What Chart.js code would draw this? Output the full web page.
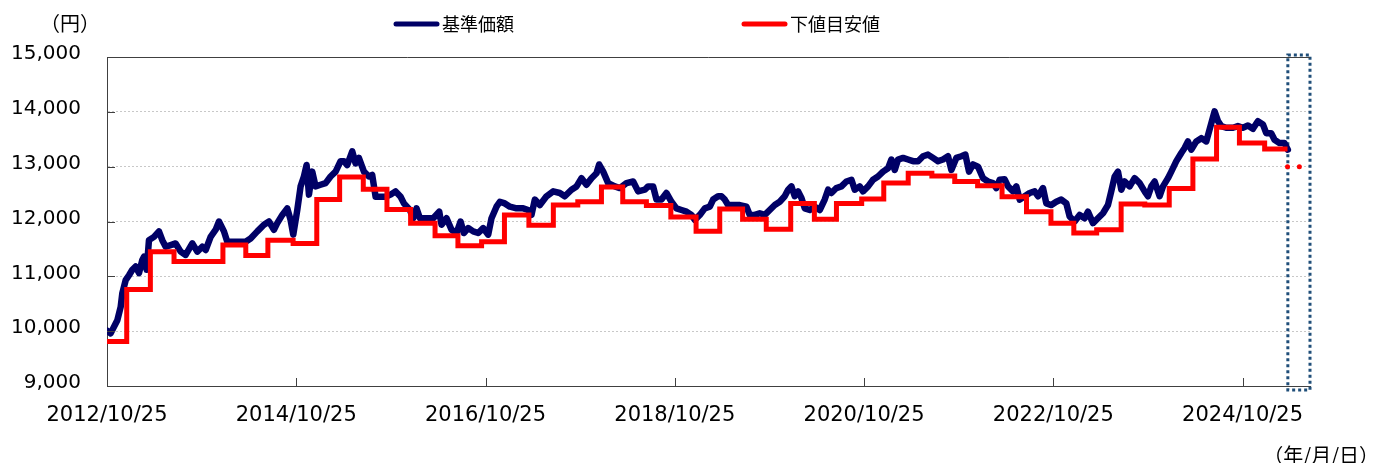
<!DOCTYPE html>
<html lang="ja">
<head>
<meta charset="utf-8">
<title>基準価額と下値目安値の推移</title>
<script src="https://cdn.jsdelivr.net/npm/chart.js@4.4.1/dist/chart.umd.min.js"></script>
<style>
  html, body { margin: 0; padding: 0; background: #fff; }
</style>
</head>
<body>
<canvas id="chart" width="1379" height="463"></canvas>
<script>
// 横軸は 2012/10/25 からの経過月数
const tickMonths = [0, 24, 48, 72, 96, 120, 144];
const tickLabels = ["2012/10/25", "2014/10/25", "2016/10/25", "2018/10/25", "2020/10/25", "2022/10/25", "2024/10/25"];
const axisEndMonth = 152.55;

const yMin = 9000;
const yMax = 15000;
const yStep = 1000;

// 基準価額
const navMonths = [
  0, 0.46, 1.31, 1.73, 1.94, 2.37, 2.79, 3.21, 3.63, 4.06, 4.48, 4.69, 5.03, 5.32, 5.96, 6.59,
  7.01, 7.44, 8.07, 8.70, 9.34, 9.97, 10.82, 11.45, 12.08, 12.51, 13.14, 13.78, 14.20, 14.83, 15.25,
  16.52, 17.58, 18.21, 19.06, 19.90, 20.54, 21.17, 21.59, 22.23, 22.86, 23.28, 23.62, 24.13, 24.55,
  24.97, 25.31, 25.61, 26.03, 26.45, 27.08, 27.72, 28.35, 28.99, 29.62, 30.04, 30.46, 31.10, 31.52,
  31.94, 32.58, 33.21, 33.63, 34.06, 34.69, 35.32, 35.96, 36.59, 37.23, 37.65,
  38.41, 38.83, 39.25, 39.68, 40.52, 41.37, 42.13, 42.42, 43.06, 43.69, 44.32, 44.83, 45.25, 45.80,
  46.44, 47.07, 47.70, 48.34, 48.76, 49.39, 49.82, 50.45, 51.09, 51.93, 52.78, 53.41, 53.83, 54.25,
  54.89, 55.73, 56.58, 57.42, 58.05, 58.90, 59.54, 60.17, 60.80, 61.44, 62.07, 62.41, 62.92, 63.55,
  64.40, 65.03, 65.87, 66.72, 67.35, 68.20, 68.62, 69.25, 69.68, 70.31, 70.94, 71.58, 72.21, 72.85,
  73.48, 74.11, 74.54,
  75.17, 75.80, 76.44, 76.86, 77.49, 77.92, 78.34, 78.76, 79.40, 80.24, 81.09, 81.51, 82.14, 82.77,
  83.41, 84.04, 84.68, 85.31, 85.94, 86.37, 86.79, 87.21, 87.64, 88.06, 88.48, 89.11, 89.75, 90.38,
  91.01, 91.44, 91.86, 92.49, 93.13, 93.76, 94.40, 94.82, 95.45, 95.87, 96.51, 97.14, 97.77, 98.41,
  99.04, 99.47, 99.89, 100.31, 100.95, 101.58, 102.21, 102.85, 103.48, 104.11, 104.75, 105.38,
  106.01, 106.65, 107.07, 107.70, 108.34, 108.85, 109.31, 109.82, 110.45, 111.09, 111.72, 112.35, 112.78,
  113.20, 113.83, 114.26, 114.89, 115.31, 115.74, 116.37, 117.00, 117.63, 118.06, 118.69, 119.11,
  119.75, 120.38, 121.01, 121.65, 122.07, 122.70, 123.34, 123.97, 124.39, 125.03, 125.66, 126.30,
  126.93, 127.35, 127.78, 128.20, 128.62, 129.05, 129.68, 130.31, 130.95, 131.58, 132.00, 132.43,
  132.85, 133.48, 133.91, 134.54, 134.96, 135.60, 136.23, 136.65, 137.07, 137.50, 138.13, 138.77,
  139.40, 139.82, 140.45, 140.88, 141.30, 141.93, 142.78, 143.41, 144.04, 144.68, 145.31, 145.94,
  146.58, 147.00, 147.63, 148.05, 148.68, 149.32, 149.74
];
const navValues = [
  10010, 9960, 10200, 10440, 10690, 10930, 11020, 11120, 11180, 11060, 11300, 11360, 11120, 11660, 11720, 11820,
  11660, 11540, 11570, 11600, 11450, 11390, 11600, 11450, 11540, 11480, 11720, 11850, 12000, 11820, 11630,
  11630, 11630, 11690, 11820, 11940, 12000, 11850, 11970, 12120, 12240, 12030, 11760, 12210, 12640,
  12820, 13030, 12490, 12910, 12640, 12670, 12700, 12820, 12910, 13100, 13100, 13030, 13280, 13060,
  13160, 12910, 12820, 12850, 12450, 12450, 12450, 12490, 12550, 12450, 12330,
  12210, 12060, 12240, 12060, 12060, 12060, 12180, 11940, 12060, 11850, 11790, 12000, 11790, 11880,
  11820, 11790, 11880, 11760, 12060, 12270, 12360, 12330, 12270, 12240, 12240, 12210, 12120, 12400,
  12300, 12460, 12550, 12520, 12460, 12580, 12640, 12790, 12670, 12790, 12880, 13040, 12910, 12700,
  12640, 12610, 12700, 12730, 12550, 12580, 12640, 12640, 12400, 12400, 12520, 12360, 12240, 12210,
  12180, 12120, 12030,
  12120, 12240, 12270, 12400, 12460, 12460, 12400, 12300, 12300, 12300, 12270, 12120, 12120, 12150,
  12120, 12210, 12300, 12360, 12460, 12580, 12640, 12460, 12550, 12430, 12240, 12210, 12270, 12210,
  12400, 12580, 12520, 12610, 12640, 12730, 12760, 12580, 12640, 12550, 12640, 12760, 12820, 12910,
  12970, 13130, 12940, 13130, 13160, 13130, 13100, 13100, 13190, 13220, 13160, 13100,
  13130, 13190, 12940, 13160, 13190, 13220, 12910, 13040, 13000, 12790, 12730, 12700, 12610,
  12760, 12770, 12640, 12550, 12640, 12400, 12460, 12520, 12550, 12460, 12610, 12330,
  12300, 12360, 12400, 12330, 12090, 12000, 12120, 12060, 12180, 11970, 12060, 12150,
  12300, 12550, 12820, 12910, 12580, 12730, 12640, 12790, 12700, 12550, 12460, 12640,
  12730, 12460, 12640, 12790, 12910, 13100, 13250, 13340, 13460, 13310, 13460, 13520,
  13460, 13680, 14010, 13830, 13740, 13710, 13710, 13740, 13710, 13750, 13690, 13830,
  13770, 13610, 13610, 13490, 13430, 13430, 13310
];

// 下値目安値（四半期ごとの階段）
const floorMonths = [
  0, 2.5, 5.5, 8.5, 14.7, 17.6, 20.4, 23.6, 26.6, 29.5, 32.5, 35.5, 38.5, 41.6, 44.5, 47.5,
  50.4, 53.5, 56.6, 59.7, 62.7, 65.4, 68.4, 71.5, 74.7, 77.7, 80.6, 83.6, 86.7, 89.7, 92.5,
  95.7, 98.5, 101.6, 104.6, 107.5, 110.4, 113.5, 116.6, 119.7, 122.6, 125.5, 128.6, 131.6,
  134.7, 137.7, 140.7, 143.6, 146.8, 149.7
];
const floorValues = [
  9810, 10760, 11450, 11270, 11570, 11380, 11660, 11600, 12400, 12810, 12590, 12220, 11970, 11740, 11560, 11630,
  12120, 11930, 12300, 12360, 12630, 12360, 12290, 12080, 11820, 12230, 12040, 11860, 12330, 12040, 12330,
  12410, 12700, 12880, 12830, 12730, 12650, 12450, 12180, 11970, 11790, 11850, 12320, 12300,
  12600, 13140, 13720, 13430, 13320, 13320
];

// 次回の下値目安値（点）
const nextFloorMonths = [149.7, 151.2];
const nextFloorValues = [13000, 13000];

const toPoints = (xs, ys) => xs.map((m, i) => ({ x: m, y: ys[i] }));

// 直近期間の点線枠（データの下に描く）
const recentBox = {
  id: "recentBox",
  beforeDatasetsDraw(chart) {
    const { ctx, chartArea: area, scales: { x } } = chart;
    const bx = x.getPixelForValue(navMonths[navMonths.length - 1]);
    ctx.save();
    ctx.strokeStyle = "#1F4E79";
    ctx.lineWidth = 3;
    ctx.setLineDash([3, 3]);
    ctx.strokeRect(bx, area.top - 2, area.right - bx, area.bottom - area.top + 6);
    ctx.restore();
  }
};

// 凡例・単位・内向き目盛り・上枠
const decorations = {
  id: "decorations",
  afterDraw(chart) {
    const { ctx, chartArea: area, scales: { x, y } } = chart;
    ctx.save();

    ctx.strokeStyle = "#404040";
    ctx.lineWidth = 1;
    ctx.beginPath();
    ctx.moveTo(area.left, Math.round(area.top) + 0.5);
    ctx.lineTo(area.right, Math.round(area.top) + 0.5);
    y.ticks.forEach((t) => {
      const py = Math.round(y.getPixelForValue(t.value)) + 0.5;
      ctx.moveTo(area.left, py);
      ctx.lineTo(area.left + 8, py);
    });
    x.ticks.forEach((t) => {
      if (t.value === 0) return;
      const px = Math.round(x.getPixelForValue(t.value)) + 0.5;
      ctx.moveTo(px, area.bottom);
      ctx.lineTo(px, area.bottom - 8);
    });
    ctx.stroke();

    const legendX = [394, 742];
    ctx.textBaseline = "middle";
    chart.data.datasets.slice(0, 2).forEach((ds, i) => {
      const lx = legendX[i];
      ctx.strokeStyle = ds.borderColor;
      ctx.lineWidth = 5;
      ctx.lineCap = "round";
      ctx.beginPath();
      ctx.moveTo(lx + 2, 24);
      ctx.lineTo(lx + 43, 24);
      ctx.stroke();
      ctx.fillStyle = "#000";
      ctx.font = '18px "Noto Sans CJK JP"';
      ctx.textAlign = "left";
      ctx.fillText(ds.label, lx + 48, 24);
    });

    ctx.font = '20px "Noto Sans CJK JP"';
    ctx.textAlign = "center";
    ctx.fillText("（円）", 70, 23);
    ctx.textAlign = "right";
    ctx.fillText("（年/月/日）", 1379, 455);
    ctx.restore();
  }
};

new Chart(document.getElementById("chart"), {
  type: "line",
  data: {
    datasets: [
      {
        label: "基準価額",
        data: toPoints(navMonths, navValues),
        borderColor: "#000066",
        borderWidth: 6.5,
        borderJoinStyle: "round",
        borderCapStyle: "round",
        pointRadius: 0,
        order: 1
      },
      {
        label: "下値目安値",
        data: toPoints(floorMonths, floorValues),
        borderColor: "#FF0000",
        borderWidth: 5,
        stepped: true,
        pointRadius: 0,
        order: 0
      },
      {
        label: "次回下値目安値",
        data: toPoints(nextFloorMonths, nextFloorValues),
        showLine: false,
        pointRadius: 2.5,
        pointBorderWidth: 0,
        pointBackgroundColor: "#FF0000",
        borderColor: "#FF0000",
        clip: false,
        order: 0
      }
    ]
  },
  options: {
    responsive: false,
    animation: false,
    layout: { padding: { top: 57, right: 69, left: 0, bottom: 0 } },
    plugins: {
      legend: { display: false },
      tooltip: { enabled: false }
    },
    scales: {
      x: {
        type: "linear",
        min: 0,
        max: axisEndMonth,
        afterBuildTicks: (scale) => {
          scale.ticks = tickMonths.map((v) => ({ value: v }));
        },
        afterFit: (scale) => { scale.height = 77; },
        grid: { display: false, drawTicks: false },
        border: { color: "#404040", width: 1 },
        ticks: {
          autoSkip: false,
          maxRotation: 0,
          padding: 17,
          color: "#000",
          font: { family: "DejaVu Sans", size: 21 },
          callback: (value, index) => tickLabels[index]
        }
      },
      y: {
        min: yMin,
        max: yMax,
        afterFit: (scale) => { scale.width = 107; },
        grid: { color: "#C8C8C8", lineWidth: 1, drawTicks: false },
        border: { color: "#404040", width: 1, dash: [2, 2] },
        ticks: {
          stepSize: yStep,
          padding: 26,
          labelOffset: -3,
          color: "#000",
          font: { family: "DejaVu Sans", size: 20 },
          callback: (value) => value.toLocaleString("en-US")
        }
      }
    }
  },
  plugins: [recentBox, decorations]
});
</script>
</body>
</html>
